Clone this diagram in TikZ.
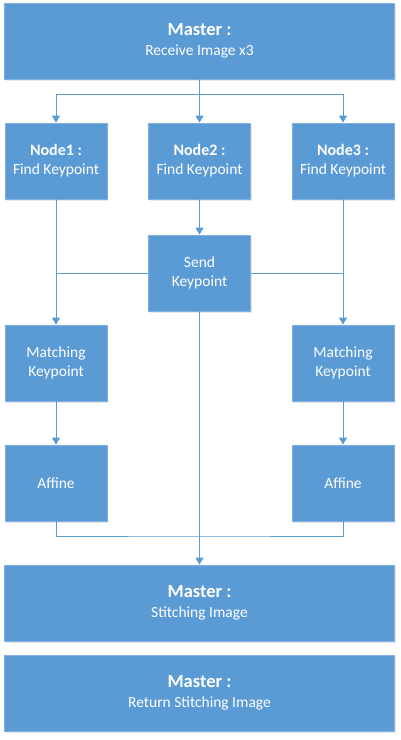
\documentclass[tikz,border=0pt]{standalone}
\usepackage{fontspec}
\setmainfont{Carlito}
\usetikzlibrary{arrows.meta,shadows}
\definecolor{boxblue}{HTML}{5B9BD5}
\definecolor{boxedge}{HTML}{7FB0DF}
\tikzset{
  box/.style={rectangle, fill=boxblue, draw=boxedge, line width=0.8pt, text=white,
    align=center, inner sep=2pt,
    drop shadow={opacity=0.18, shadow xshift=1.2pt, shadow yshift=-1.5pt},
    font=\fontsize{15.5}{19}\selectfont},
  small/.style={box, minimum width=102pt, minimum height=76pt},
  wide/.style={box, minimum width=390pt, minimum height=76pt, font=\fontsize{15.5}{20}\selectfont},
  conn/.style={draw=boxblue, line width=1pt},
  arr/.style={conn, -{Triangle[width=8pt,length=7pt]}}
}
\newcommand{\mtitle}[1]{{\bfseries\fontsize{18.5}{20}\selectfont #1}}
\newcommand{\ntitle}[1]{{\bfseries\fontsize{16}{19}\selectfont #1}}
\begin{document}
\begin{tikzpicture}[x=1pt,y=-1pt]
\useasboundingbox[fill=white] (0,0) rectangle (400,740);
\node[wide] (master) at (199.5,41) {\mtitle{Master :}\\Receive Image x3};
\node[small] (n1) at (56,161) {\ntitle{Node1 :}\\Find Keypoint};
\node[small] (n2) at (199.5,161) {\ntitle{Node2 :}\\Find Keypoint};
\node[small] (n3) at (343,161) {\ntitle{Node3 :}\\Find Keypoint};
\node[small] (send) at (199.5,273) {Send\\Keypoint};
\node[small] (m1) at (56,363) {Matching\\Keypoint};
\node[small] (m3) at (343,363) {Matching\\Keypoint};
\node[small] (a1) at (56,483) {Affine};
\node[small] (a3) at (343,483) {Affine};
\node[wide] (stitch) at (199.5,603) {\mtitle{Master :}\\Stitching Image};
\node[wide] (ret) at (199.5,693) {\mtitle{Master :}\\Return Stitching Image};
\coordinate (br) at (199.5,94);
\coordinate (jn) at (199.5,536);
% connectors
\draw[arr] (master.south) -- (n2.north);
\draw[arr] (br) -| (n1.north);
\draw[arr] (br) -| (n3.north);
\draw[arr] (n2.south) -- (send.north);
\draw[arr] (n1.south) -- (m1.north);
\draw[arr] (n3.south) -- (m3.north);
\draw[conn] (send.west) -- (send.west -| m1.north);
\draw[conn] (send.east) -- (send.east -| m3.north);
\draw[arr] (m1.south) -- (a1.north);
\draw[arr] (m3.south) -- (a3.north);
\draw[conn] (a1.south) |- (jn) -| (a3.south);
\draw[arr] (send.south) -- (stitch.north);
\end{tikzpicture}
\end{document}
